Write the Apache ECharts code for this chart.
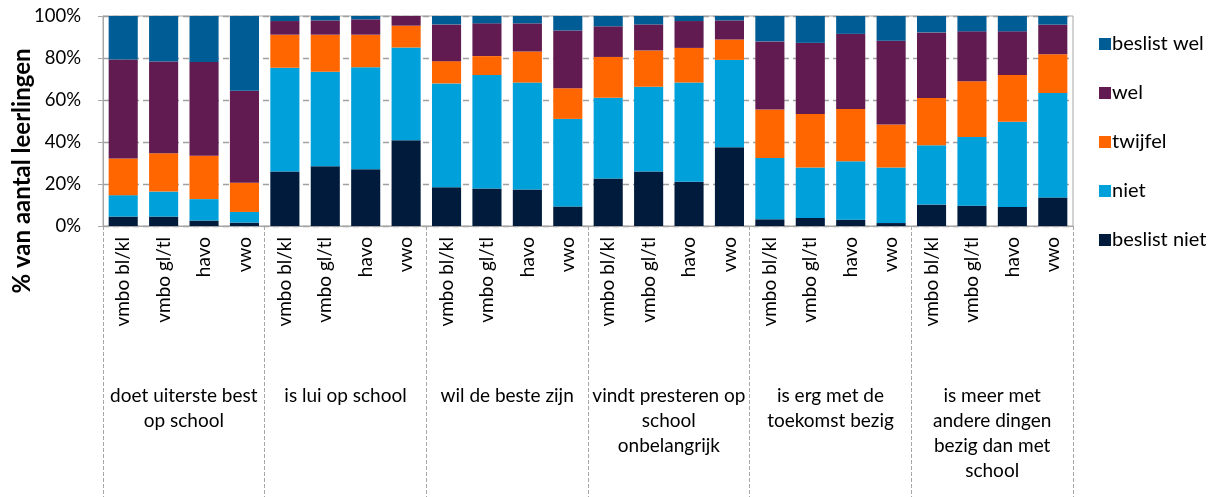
<!DOCTYPE html>
<html>
<head>
<meta charset="utf-8">
<script src="https://cdn.jsdelivr.net/npm/echarts@6/dist/echarts.min.js"></script>
<style>html,body{margin:0;padding:0;background:#fff}#c{width:1212px;height:497px}</style>
</head>
<body>
<div id="c"></div>
<script>
var levels = ['vmbo bl/kl','vmbo gl/tl','havo','vwo'];
var groups = ['doet uiterste best\nop school','is lui op school','wil de beste zijn','vindt presteren op\nschool\nonbelangrijk','is erg met de\ntoekomst bezig','is meer met\nandere dingen\nbezig dan met\nschool'];
var categories = [];
groups.forEach(function(g){ levels.forEach(function(l){ categories.push(l); }); });
var yTicks = [0,20,40,60,80,100];
var seriesNames = ['beslist niet','niet','twijfel','wel','beslist wel'];
var beslistNiet = [4.5,4.5,2.6,1.6, 26.0,28.5,27.0,40.8, 18.5,17.9,17.4,9.3, 22.6,26.0,21.1,37.5, 3.2,3.8,3.0,1.4, 10.2,9.7,9.1,13.6];
var niet        = [10.2,11.9,10.2,5.1, 49.4,45.0,48.6,44.2, 49.4,54.0,50.9,41.7, 38.5,40.3,47.2,41.6, 29.2,24.0,27.8,26.4, 28.2,32.7,40.5,49.7];
var twijfel     = [17.5,18.2,20.7,13.9, 15.7,17.6,15.5,10.4, 10.6,9.0,14.8,14.6, 19.4,17.3,16.5,9.7, 23.1,25.5,24.9,20.5, 22.5,26.5,22.3,18.5];
var wel         = [47.1,43.7,44.6,43.8, 6.5,6.8,7.3,4.6, 17.5,15.6,13.4,27.5, 14.6,12.4,12.8,9.1, 32.4,33.9,35.8,39.9, 31.3,23.8,20.8,14.1];
var beslistWel  = [20.7,21.7,21.9,35.6, 2.4,2.1,1.6,0.2, 4.0,3.5,3.5,6.9, 4.9,4.0,2.4,2.1, 12.1,12.8,8.5,11.8, 7.8,7.3,7.3,4.1];
var colors = ['#001B3C','#00A1DA','#FF6600','#621B50','#005C94'];
var values = [beslistNiet, niet, twijfel, wel, beslistWel];

var FONT = 'Lato, "Open Sans", sans-serif';
var chart = echarts.init(document.getElementById('c'), null, {renderer:'canvas'});
var series = seriesNames.map(function(n, i){
  return {name:n, type:'bar', stack:'total', xAxisIndex:0, yAxisIndex:0, data:values[i],
    barCategoryGap:'28%', itemStyle:{color:colors[i]}, emphasis:{disabled:true}};
});
chart.setOption({
  animation:false,
  textStyle:{fontFamily:FONT, color:'#000'},
  grid:{left:103, top:16, width:970, height:210, show:true, borderColor:'#A6A6A6', borderWidth:1, containLabel:false},
  legend:{orient:'vertical', left:1094, top:29, itemWidth:12, itemHeight:12, itemGap:29, icon:'rect',
    data:['beslist wel','wel','twijfel','niet','beslist niet'],
    textStyle:{fontFamily:FONT, fontSize:20, color:'#000', padding:[0,0,0,-4]}},
  graphic:[{type:'text', x:22, y:171, rotation:Math.PI/2,
    style:{text:'% van aantal leerlingen', font:'bold 24px '+FONT, fill:'#000', align:'center', verticalAlign:'middle'}}],
  xAxis:[
    {type:'category', data:categories, gridIndex:0, position:'bottom', offset:0,
      axisLine:{show:true, lineStyle:{color:'#A6A6A6'}}, axisTick:{show:false},
      axisLabel:{rotate:90, margin:11, fontSize:19, color:'#000', fontFamily:FONT, interval:0}},
    {type:'category', data:groups, gridIndex:0, position:'bottom', offset:0,
      axisLine:{show:false},
      axisTick:{show:true, interval:0, length:272, lineStyle:{color:'#A6A6A6', type:[4,2], width:1}},
      axisLabel:{interval:0, margin:157, fontSize:19, lineHeight:25, color:'#000', fontFamily:FONT, verticalAlign:'top'}}
  ],
  yAxis:{type:'value', min:0, max:100, interval:20,
    axisLine:{show:true, lineStyle:{color:'#A6A6A6'}},
    axisTick:{show:true, length:5, lineStyle:{color:'#A6A6A6'}},
    axisLabel:{formatter:'{value}%', fontSize:18.5, color:'#000', margin:22, fontFamily:FONT},
    splitLine:{show:true, lineStyle:{color:'#A0A0A0', type:[6,4], width:1.3}}},
  series:series
});
</script>
</body>
</html>
